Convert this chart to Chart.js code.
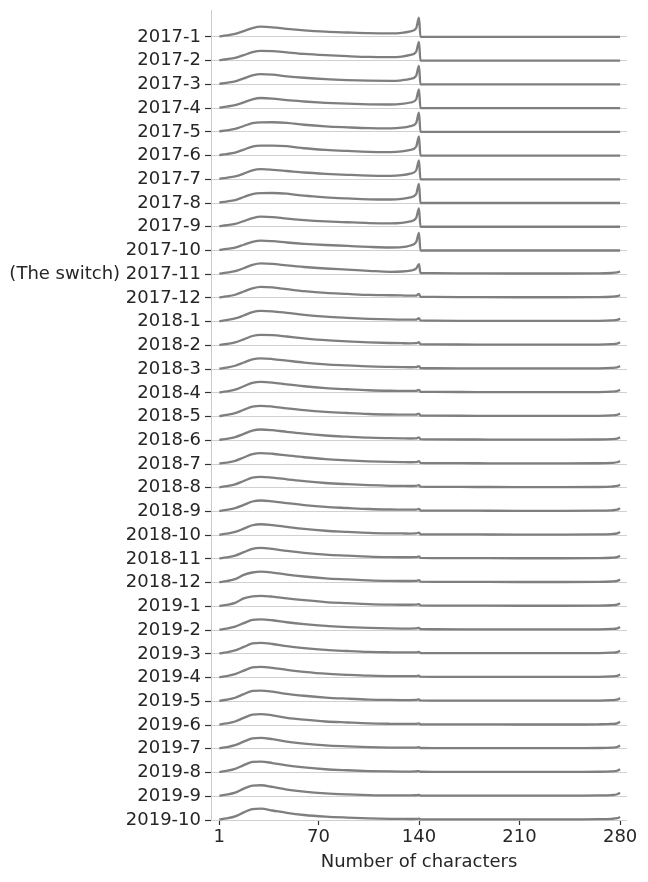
<!DOCTYPE html>
<html>
<head>
<meta charset="utf-8">
<script src="https://cdn.jsdelivr.net/npm/chart.js@4.4.1/dist/chart.umd.min.js"></script>
<style>
  html, body { margin: 0; padding: 0; background: #fff; }
</style>
</head>
<body>
<canvas id="ridgeChart" width="648" height="882"></canvas>
<script>
// month labels, top row first
const monthLabels = [
    "2017-1", "2017-2", "2017-3", "2017-4", "2017-5", "2017-6", "2017-7", "2017-8", "2017-9", "2017-10",
    "(The switch) 2017-11", "2017-12",
    "2018-1", "2018-2", "2018-3", "2018-4", "2018-5", "2018-6", "2018-7", "2018-8", "2018-9", "2018-10", "2018-11", "2018-12",
    "2019-1", "2019-2", "2019-3", "2019-4", "2019-5", "2019-6", "2019-7", "2019-8", "2019-9", "2019-10"
];

const xChars = [1, 6, 12, 18, 24, 30, 38, 48, 60, 75, 90, 105, 120, 128, 134, 138, 140, 141, 150, 180, 210, 240, 265, 274, 278, 280];
const xTicks = [1, 70, 140, 210, 280];

// relative density per month (same order as monthLabels)
const density2017 = [
    [0.05, 0.15, 0.30, 0.58, 0.88, 1.02, 0.96, 0.80, 0.65, 0.52, 0.44, 0.37, 0.35, 0.41, 0.56, 0.85, 1.92, 0, 0, 0, 0, 0, 0, 0, 0, 0],
    [0.05, 0.14, 0.28, 0.55, 0.84, 0.98, 0.96, 0.83, 0.68, 0.55, 0.45, 0.37, 0.35, 0.41, 0.57, 0.88, 1.88, 0, 0, 0, 0, 0, 0, 0, 0, 0],
    [0.05, 0.16, 0.30, 0.60, 0.90, 1.03, 0.97, 0.81, 0.66, 0.52, 0.43, 0.37, 0.35, 0.41, 0.55, 0.86, 1.85, 0, 0, 0, 0, 0, 0, 0, 0, 0],
    [0.05, 0.15, 0.29, 0.57, 0.88, 1.01, 0.95, 0.79, 0.66, 0.53, 0.44, 0.38, 0.36, 0.42, 0.56, 0.86, 1.88, 0, 0, 0, 0, 0, 0, 0, 0, 0],
    [0.05, 0.15, 0.30, 0.58, 0.86, 0.95, 0.96, 0.90, 0.71, 0.55, 0.45, 0.37, 0.35, 0.41, 0.57, 0.88, 1.92, 0, 0, 0, 0, 0, 0, 0, 0, 0],
    [0.05, 0.15, 0.30, 0.60, 0.90, 0.99, 1.00, 0.94, 0.73, 0.57, 0.46, 0.37, 0.35, 0.41, 0.56, 0.88, 1.92, 0, 0, 0, 0, 0, 0, 0, 0, 0],
    [0.05, 0.15, 0.29, 0.57, 0.90, 1.01, 0.95, 0.83, 0.68, 0.55, 0.45, 0.37, 0.35, 0.41, 0.57, 0.88, 1.88, 0, 0, 0, 0, 0, 0, 0, 0, 0],
    [0.05, 0.15, 0.30, 0.60, 0.90, 0.99, 1.00, 0.93, 0.73, 0.57, 0.46, 0.37, 0.35, 0.41, 0.56, 0.88, 1.92, 0, 0, 0, 0, 0, 0, 0, 0, 0],
    [0.05, 0.15, 0.29, 0.57, 0.86, 1.01, 0.97, 0.81, 0.67, 0.54, 0.45, 0.37, 0.34, 0.39, 0.54, 0.86, 1.84, 0, 0, 0, 0, 0, 0, 0, 0, 0],
    [0.05, 0.15, 0.29, 0.57, 0.86, 0.99, 0.93, 0.80, 0.67, 0.55, 0.46, 0.36, 0.30, 0.33, 0.50, 0.83, 1.76, 0, 0, 0, 0, 0, 0, 0, 0, 0],
    [0.05, 0.15, 0.30, 0.60, 0.93, 1.08, 1.03, 0.88, 0.72, 0.57, 0.46, 0.34, 0.24, 0.27, 0.37, 0.55, 1.00, 0.12, 0.10, 0.08, 0.07, 0.07, 0.08, 0.12, 0.18, 0.25],
    [0.05, 0.15, 0.32, 0.64, 0.96, 1.11, 1.05, 0.88, 0.68, 0.50, 0.40, 0.30, 0.27, 0.25, 0.23, 0.24, 0.40, 0.12, 0.10, 0.08, 0.07, 0.07, 0.08, 0.12, 0.18, 0.28]
];

const density2018 = [
    [0.05, 0.15, 0.32, 0.62, 0.96, 1.08, 1.03, 0.88, 0.68, 0.50, 0.38, 0.28, 0.22, 0.21, 0.20, 0.21, 0.34, 0.12, 0.10, 0.08, 0.07, 0.07, 0.08, 0.12, 0.18, 0.30],
    [0.05, 0.14, 0.30, 0.60, 0.94, 1.06, 1.03, 0.89, 0.71, 0.52, 0.40, 0.30, 0.24, 0.22, 0.21, 0.22, 0.32, 0.12, 0.10, 0.08, 0.07, 0.07, 0.08, 0.12, 0.18, 0.30],
    [0.05, 0.16, 0.34, 0.66, 0.98, 1.08, 1.01, 0.85, 0.66, 0.48, 0.37, 0.27, 0.22, 0.20, 0.19, 0.20, 0.30, 0.11, 0.09, 0.08, 0.07, 0.07, 0.08, 0.12, 0.18, 0.30],
    [0.05, 0.15, 0.32, 0.66, 1.00, 1.10, 1.03, 0.85, 0.66, 0.48, 0.36, 0.26, 0.21, 0.20, 0.19, 0.20, 0.30, 0.11, 0.09, 0.08, 0.07, 0.07, 0.08, 0.12, 0.18, 0.30],
    [0.05, 0.16, 0.34, 0.68, 1.00, 1.08, 1.00, 0.83, 0.65, 0.48, 0.36, 0.26, 0.21, 0.20, 0.19, 0.20, 0.29, 0.11, 0.09, 0.08, 0.07, 0.07, 0.08, 0.12, 0.18, 0.30],
    [0.05, 0.15, 0.32, 0.64, 0.98, 1.08, 1.01, 0.85, 0.66, 0.48, 0.36, 0.26, 0.21, 0.19, 0.18, 0.19, 0.29, 0.11, 0.09, 0.08, 0.07, 0.07, 0.08, 0.12, 0.18, 0.30],
    [0.05, 0.15, 0.32, 0.66, 1.00, 1.10, 1.03, 0.87, 0.68, 0.49, 0.37, 0.27, 0.21, 0.19, 0.18, 0.19, 0.29, 0.11, 0.09, 0.08, 0.07, 0.07, 0.08, 0.12, 0.18, 0.30],
    [0.05, 0.16, 0.34, 0.68, 1.02, 1.10, 1.01, 0.85, 0.66, 0.48, 0.36, 0.26, 0.20, 0.19, 0.18, 0.19, 0.27, 0.11, 0.09, 0.08, 0.07, 0.07, 0.08, 0.12, 0.18, 0.30],
    [0.05, 0.16, 0.34, 0.66, 1.00, 1.10, 1.01, 0.83, 0.64, 0.46, 0.35, 0.25, 0.20, 0.19, 0.18, 0.19, 0.27, 0.10, 0.09, 0.08, 0.07, 0.07, 0.08, 0.12, 0.18, 0.32],
    [0.05, 0.15, 0.33, 0.66, 1.00, 1.10, 1.01, 0.83, 0.63, 0.45, 0.34, 0.24, 0.19, 0.18, 0.17, 0.18, 0.26, 0.10, 0.09, 0.08, 0.07, 0.07, 0.08, 0.12, 0.18, 0.32],
    [0.05, 0.16, 0.34, 0.68, 1.02, 1.10, 1.00, 0.81, 0.62, 0.44, 0.33, 0.23, 0.18, 0.17, 0.17, 0.18, 0.25, 0.10, 0.09, 0.08, 0.07, 0.07, 0.08, 0.12, 0.18, 0.32],
    [0.05, 0.16, 0.35, 0.78, 1.02, 1.10, 1.01, 0.81, 0.62, 0.44, 0.33, 0.23, 0.18, 0.17, 0.17, 0.18, 0.25, 0.10, 0.09, 0.08, 0.07, 0.07, 0.08, 0.12, 0.18, 0.32]
];

const density2019 = [
    [0.05, 0.16, 0.36, 0.80, 1.00, 1.06, 0.98, 0.80, 0.62, 0.44, 0.33, 0.23, 0.18, 0.17, 0.17, 0.18, 0.23, 0.10, 0.09, 0.08, 0.07, 0.07, 0.08, 0.12, 0.18, 0.32],
    [0.05, 0.16, 0.35, 0.70, 1.02, 1.08, 0.99, 0.79, 0.60, 0.42, 0.31, 0.22, 0.17, 0.16, 0.16, 0.17, 0.22, 0.10, 0.09, 0.08, 0.07, 0.07, 0.08, 0.12, 0.18, 0.32],
    [0.05, 0.16, 0.35, 0.70, 1.04, 1.10, 0.99, 0.77, 0.58, 0.40, 0.29, 0.20, 0.16, 0.15, 0.15, 0.16, 0.21, 0.09, 0.08, 0.07, 0.07, 0.07, 0.08, 0.12, 0.18, 0.32],
    [0.05, 0.16, 0.35, 0.70, 1.02, 1.08, 0.98, 0.77, 0.58, 0.39, 0.28, 0.19, 0.15, 0.14, 0.14, 0.15, 0.20, 0.09, 0.08, 0.07, 0.07, 0.07, 0.08, 0.12, 0.18, 0.32],
    [0.05, 0.16, 0.36, 0.72, 1.04, 1.08, 0.97, 0.75, 0.56, 0.38, 0.27, 0.18, 0.14, 0.13, 0.13, 0.14, 0.19, 0.09, 0.08, 0.07, 0.07, 0.07, 0.08, 0.12, 0.18, 0.32],
    [0.05, 0.16, 0.36, 0.72, 1.04, 1.10, 0.97, 0.73, 0.54, 0.36, 0.26, 0.17, 0.13, 0.12, 0.12, 0.13, 0.17, 0.08, 0.07, 0.07, 0.06, 0.06, 0.08, 0.12, 0.18, 0.33],
    [0.05, 0.16, 0.36, 0.72, 1.04, 1.10, 0.96, 0.72, 0.52, 0.34, 0.24, 0.16, 0.12, 0.11, 0.11, 0.12, 0.16, 0.08, 0.07, 0.06, 0.06, 0.06, 0.08, 0.12, 0.18, 0.33],
    [0.05, 0.16, 0.36, 0.74, 1.06, 1.10, 0.95, 0.71, 0.51, 0.33, 0.23, 0.15, 0.11, 0.10, 0.10, 0.11, 0.15, 0.08, 0.07, 0.06, 0.06, 0.06, 0.08, 0.12, 0.18, 0.34],
    [0.05, 0.16, 0.36, 0.76, 1.06, 1.10, 0.93, 0.67, 0.46, 0.29, 0.19, 0.12, 0.09, 0.09, 0.09, 0.10, 0.13, 0.07, 0.06, 0.06, 0.06, 0.06, 0.08, 0.12, 0.20, 0.35],
    [0.05, 0.16, 0.36, 0.76, 1.08, 1.13, 0.95, 0.71, 0.50, 0.34, 0.24, 0.16, 0.12, 0.11, 0.10, 0.11, 0.13, 0.07, 0.06, 0.06, 0.06, 0.06, 0.08, 0.12, 0.18, 0.30]
];

const allRows = density2017.concat(density2018, density2019);

// vertical distance between two ridge baselines, in density units
const ROW_STEP = 2.373;
const nRows = allRows.length;

function baselineOf(i) {
    return (nRows - 1 - i) * ROW_STEP;
}

const datasets = allRows.map((vals, i) => ({
    label: monthLabels[i],
    data: xChars.map((c, j) => ({ x: c, y: baselineOf(i) + vals[j] })),
    borderColor: '#7f7f7f',
    borderWidth: 2.3,
    pointRadius: 0,
    fill: false,
    clip: false,
    cubicInterpolationMode: 'monotone'
}));

const textColor = '#262626';
const font18 = { family: 'DejaVu Sans', size: 18 };

const ctx = document.getElementById('ridgeChart').getContext('2d');
const ridgeChart = new Chart(ctx, {
    type: 'line',
    data: { datasets: datasets },
    options: {
        responsive: false,
        animation: false,
        devicePixelRatio: 1,
        layout: { padding: { top: 10, right: 21, bottom: 0, left: 0 } },
        plugins: {
            legend: { display: false },
            tooltip: { enabled: false }
        },
        scales: {
            x: {
                type: 'linear',
                min: -4.8,
                max: 284.8,
                afterBuildTicks: scale => {
                    scale.ticks = xTicks.map(v => ({ value: v }));
                },
                afterFit: scale => {
                    scale.height = 62;
                    scale.paddingLeft = 0;
                    scale.paddingRight = 0;
                },
                border: { display: false },
                grid: {
                    drawOnChartArea: false,
                    drawTicks: true,
                    tickLength: 5,
                    tickColor: '#333333',
                    tickWidth: 1.2
                },
                ticks: {
                    color: textColor,
                    font: font18,
                    padding: 2,
                    maxRotation: 0,
                    autoSkip: false
                },
                title: {
                    display: true,
                    text: 'Number of characters',
                    color: textColor,
                    font: font18,
                    padding: { top: 0, bottom: 9 }
                }
            },
            y: {
                type: 'linear',
                min: 0,
                max: 81.0,
                afterBuildTicks: scale => {
                    scale.ticks = monthLabels.map((_, i) => ({ value: baselineOf(i) }));
                },
                afterFit: scale => {
                    scale.width = 211;
                    scale.paddingTop = 0;
                    scale.paddingBottom = 0;
                },
                border: { display: true, color: '#cccccc', width: 1 },
                grid: {
                    color: '#d0d0d0',
                    lineWidth: 1,
                    drawTicks: true,
                    tickLength: 6,
                    tickColor: '#333333',
                    tickWidth: 1.2
                },
                ticks: {
                    color: textColor,
                    font: font18,
                    padding: 4,
                    autoSkip: false,
                    callback: value => monthLabels[nRows - 1 - Math.round(value / ROW_STEP)]
                }
            }
        }
    }
});
</script>
</body>
</html>
